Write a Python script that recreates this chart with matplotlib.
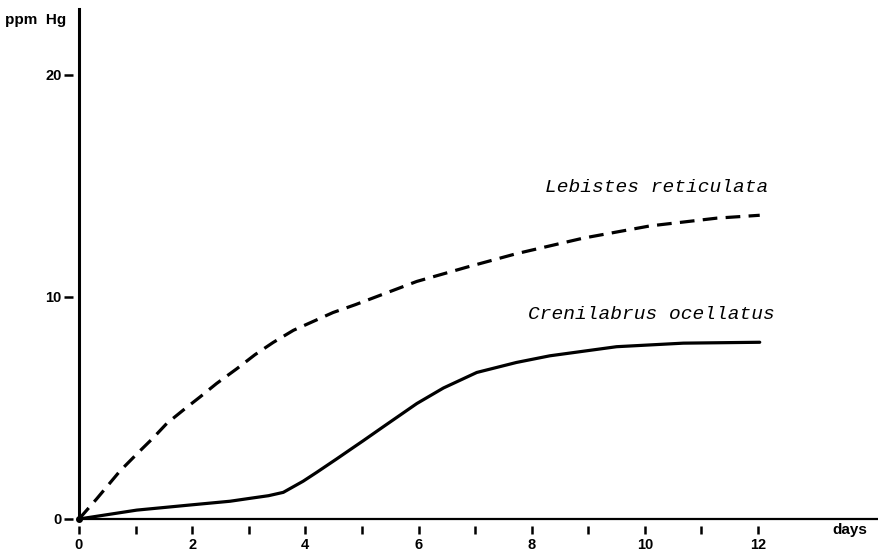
import matplotlib
matplotlib.use("Agg")
import matplotlib.pyplot as plt

# mercury uptake (ppm Hg) against exposure time in days
lebistes_days = [0, 0.31, 0.72, 1.05, 1.31, 1.55, 1.84, 2.14, 2.43, 2.79, 3.11, 3.43,
                 3.79, 4.14, 4.49, 4.88, 5.97, 6.85, 7.73, 8.91, 10.09, 11.27, 12.03]
lebistes_hg = [0, 0.9, 2.15, 3.0, 3.65, 4.3, 4.9, 5.5, 6.1, 6.77, 7.4, 7.95,
               8.5, 8.9, 9.3, 9.65, 10.7, 11.34, 11.95, 12.65, 13.2, 13.55, 13.68]

crenilabrus_days = [0, 1.02, 1.96, 2.67, 3.02, 3.35, 3.61, 3.96, 4.2, 4.55, 4.79, 5.02,
                    5.38, 5.97, 6.44, 7.03, 7.73, 8.32, 9.5, 10.68, 12.03]
crenilabrus_hg = [0, 0.4, 0.63, 0.8, 0.93, 1.05, 1.2, 1.7, 2.1, 2.7, 3.12, 3.52,
                  4.16, 5.2, 5.9, 6.6, 7.05, 7.35, 7.76, 7.92, 7.96]

x_ticks = list(range(13))
x_labels = [str(d) if d % 2 == 0 else "" for d in x_ticks]
y_ticks = [0, 10, 20]
y_labels = ["0", "10", "20"]

plt.rcParams["font.family"] = ["Liberation Sans", "DejaVu Sans"]
plt.rcParams["font.weight"] = "bold"

fig = plt.figure(figsize=(8.79, 5.55), dpi=100)
ax = fig.add_axes([79 / 879, 36 / 555, 799 / 879, 510 / 555])

ax.plot(lebistes_days, lebistes_hg, color="black", lw=2.3, dashes=(4.6, 2.6),
        clip_on=False)
ax.plot(crenilabrus_days, crenilabrus_hg, color="black", lw=2.3,
        solid_capstyle="round", solid_joinstyle="round", clip_on=False)
ax.plot([0], [0], "o", color="black", ms=4, clip_on=False)

# axis lines drawn by hand; the ticks sit detached from them
ax.axhline(0, color="black", lw=1.6, clip_on=False)
ax.axvline(0, color="black", lw=2.2, clip_on=False)
for s in ax.spines.values():
    s.set_visible(False)
ax.spines["bottom"].set_position(("outward", 5))
ax.spines["left"].set_position(("outward", 4))

ax.set_xlim(0, 14.12)
ax.set_ylim(0, 22.97)
ax.set_xticks(x_ticks, x_labels)
ax.set_yticks(y_ticks, y_labels)
ax.tick_params(axis="x", length=6, width=1.8, pad=3, labelsize=10.5)
ax.tick_params(axis="y", length=6.5, width=1.8, pad=2, labelsize=10.5)

ax.text(13.62, -0.5, "days", ha="center", va="center", fontsize=11)
fig.text(5 / 879, 1 - 20 / 555, "ppm  Hg", ha="left", va="center", fontsize=11)

species_font = dict(family="Liberation Mono", style="italic", weight="normal",
                    fontsize=14)
ax.text(8.24, 14.95, "Lebistes reticulata", ha="left", va="center", **species_font)
ax.text(7.94, 9.19, "Crenilabrus ocellatus", ha="left", va="center", **species_font)

fig.savefig("out.png", dpi=100)
